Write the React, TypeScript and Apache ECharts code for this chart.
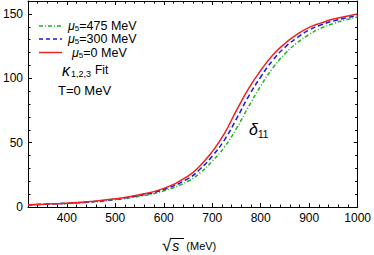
import React, { useEffect, useRef } from "react";
import * as echarts from "echarts";

const xValues = [320, 350, 400, 450, 500, 550, 600, 650, 675, 700, 725, 750, 775, 800, 825, 850, 875, 900, 925, 950, 975, 1000];
const red0 = [1.8, 2.2, 3.0, 4.3, 6.4, 9.5, 14.5, 24, 32, 43, 57, 75, 92, 106, 118, 127, 134, 139.5, 143, 146, 148, 150];
const blue300 = [1.7, 2.1, 2.9, 4.1, 6.1, 9.0, 13.6, 22, 29.5, 39.5, 52, 68.5, 86, 101, 114, 124, 131.5, 137.5, 141.5, 144.5, 146.8, 148.8];
const green475 = [1.6, 2.0, 2.7, 3.8, 5.6, 8.3, 12.5, 20, 26.5, 35.5, 46.5, 61, 78, 94, 108, 119, 127.5, 134, 139, 142.5, 145.3, 147.5];

const legendLabels = ["475", "300", "0"];
const xMajor = [400, 500, 600, 700, 800, 900, 1000];
const xMinor = [340, 360, 380, 420, 440, 460, 480, 520, 540, 560, 580, 620, 640, 660, 680, 720, 740, 760, 780, 820, 840, 860, 880, 920, 940, 960, 980];
const yMajor = [0, 50, 100, 150];
const yMinor = [10, 20, 30, 40, 60, 70, 80, 90, 110, 120, 130, 140, 160];

const pair = (ys: number[]) => xValues.map((x, i) => [x, ys[i]]);

const GREEN = "#22b022";
const BLUE = "#1a1ae0";
const RED = "#f02020";
const FONT = "Liberation Sans, Arial, sans-serif";

type Part = { t: string; size: number; italic?: boolean; dy?: number; gap?: number };

let measureCtx: CanvasRenderingContext2D | null = null;
function textWidth(t: string, size: number, italic?: boolean) {
  if (!measureCtx) measureCtx = document.createElement("canvas").getContext("2d");
  if (!measureCtx) return t.length * size * 0.55;
  measureCtx.font = `${italic ? "italic " : ""}${size}px ${FONT}`;
  return measureCtx.measureText(t).width;
}

function runText(parts: Part[], x0: number, y: number) {
  const els: any[] = [];
  let x = x0;
  parts.forEach((p) => {
    x += p.gap || 0;
    els.push({
      type: "text",
      x,
      y: y + (p.dy || 0),
      style: {
        text: p.t,
        fontSize: p.size,
        fontStyle: p.italic ? "italic" : "normal",
        fontFamily: FONT,
        fill: "#000",
        verticalAlign: "middle",
        align: "left",
      },
    });
    x += textWidth(p.t, p.size, p.italic);
  });
  return els;
}

export default function App() {
  const ref = useRef<HTMLDivElement>(null);
  useEffect(() => {
    if (!ref.current) return;
    const chart = echarts.init(ref.current, undefined, { renderer: "svg" });
    const mkX = (pos: "bottom" | "top", major: boolean) => ({
      type: "value",
      position: pos,
      min: 320,
      max: 1000,
      axisLine: { show: major, onZero: false, lineStyle: { color: "#000", width: 1 } },
      axisTick: {
        show: true,
        inside: true,
        length: major ? 4 : 2.5,
        customValues: major ? xMajor : xMinor,
        lineStyle: { color: "#000", width: 1 },
      },
      axisLabel: {
        show: major && pos === "bottom",
        customValues: xMajor,
        formatter: (v: number) => String(v),
        color: "#000",
        fontFamily: FONT,
        fontSize: 12,
        margin: 5,
      },
      splitLine: { show: false },
    });
    const mkY = (pos: "left" | "right", major: boolean) => ({
      type: "value",
      position: pos,
      min: 0,
      max: 160,
      axisLine: { show: major, onZero: false, lineStyle: { color: "#000", width: 1 } },
      axisTick: {
        show: true,
        inside: true,
        length: major ? 4 : 2.5,
        customValues: major ? yMajor : yMinor,
        lineStyle: { color: "#000", width: 1 },
      },
      axisLabel: {
        show: major && pos === "left",
        customValues: yMajor,
        formatter: (v: number) => String(v),
        color: "#000",
        fontFamily: FONT,
        fontSize: 12,
        margin: 5,
      },
      splitLine: { show: false },
    });
    const legendRows = [
      { label: legendLabels[0], color: GREEN, dash: [4, 2, 1, 2], y: 26, tx: 68 },
      { label: legendLabels[1], color: BLUE, dash: [4, 3], y: 39, tx: 68 },
      { label: legendLabels[2], color: RED, dash: null as number[] | null, y: 52.5, tx: 72 },
    ];
    const legendGraphics: any[] = [];
    legendRows.forEach((r) => {
      legendGraphics.push({
        type: "line",
        shape: { x1: 39, y1: r.y, x2: 62, y2: r.y },
        style: { stroke: r.color, lineWidth: 1.5, lineDash: r.dash || undefined },
      });
      legendGraphics.push(
        ...runText(
          [
            { t: "μ", size: 12.5, italic: true },
            { t: "5", size: 8, dy: 2.5 },
            { t: `=${r.label} MeV`, size: 12.5 },
          ],
          r.tx,
          r.y
        )
      );
    });
    const annotations = [
      ...runText(
        [
          { t: "κ", size: 16, italic: true },
          { t: "1,2,3", size: 9, dy: 4, gap: 1 },
          { t: "Fit", size: 12, gap: 4 },
        ],
        62,
        70
      ),
      ...runText([{ t: "T=0 MeV", size: 13 }], 58, 90),
      ...runText(
        [
          { t: "δ", size: 16, italic: true },
          { t: "11", size: 10, dy: 5 },
        ],
        249,
        129
      ),
      ...runText(
        [
          { t: "√", size: 17 },
          { t: "s", size: 14, italic: true, dy: 1, gap: 1 },
          { t: "(MeV)", size: 11, dy: 1, gap: 7 },
        ],
        162,
        245
      ),
    ];
    chart.setOption({
      animation: false,
      grid: { left: 25, right: 16, top: 1, bottom: 48 },
      xAxis: [mkX("bottom", true), mkX("bottom", false), mkX("top", true), mkX("top", false)],
      yAxis: [mkY("left", true), mkY("left", false), mkY("right", true), mkY("right", false)],
      series: [
        {
          name: "475",
          type: "line",
          data: pair(green475),
          smooth: true,
          symbol: "none",
          lineStyle: { color: GREEN, width: 1.5, type: [4, 2, 1, 2] },
          z: 3,
        },
        {
          name: "300",
          type: "line",
          data: pair(blue300),
          smooth: true,
          symbol: "none",
          lineStyle: { color: BLUE, width: 1.5, type: [5, 3] },
          z: 4,
        },
        {
          name: "0",
          type: "line",
          data: pair(red0),
          smooth: true,
          symbol: "none",
          lineStyle: { color: RED, width: 1.5 },
          z: 5,
        },
      ],
      graphic: [
        ...legendGraphics,
        ...annotations,
        {
          type: "line",
          shape: { x1: 171, y1: 238.5, x2: 184, y2: 238.5 },
          style: { stroke: "#000", lineWidth: 1 },
        },
      ],
    });
    return () => chart.dispose();
  }, []);
  return (
    <div
      ref={ref}
      style={{ position: "fixed", left: 0, top: 0, width: 374, height: 255, background: "#fff" }}
    />
  );
}
